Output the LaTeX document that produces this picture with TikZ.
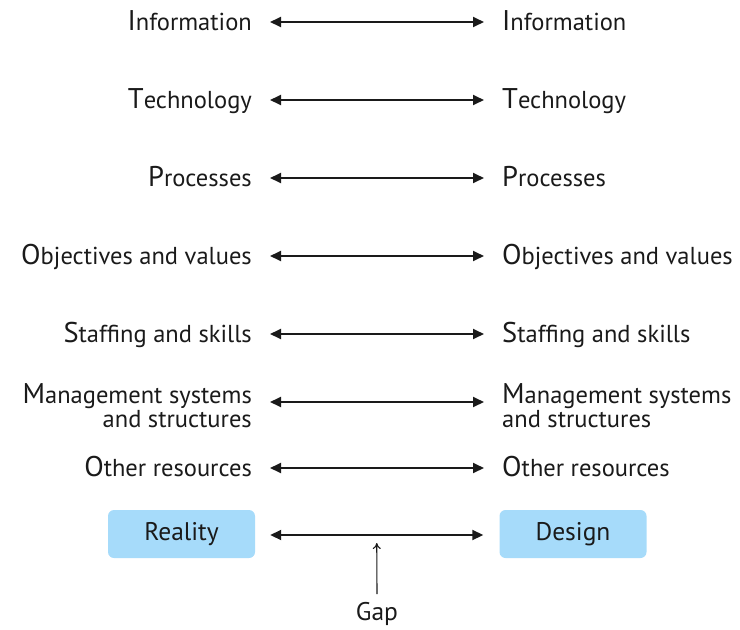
\documentclass[tikz,border=0pt]{standalone}
\usepackage{fontspec}
\setmainfont{PT Sans}
\usetikzlibrary{arrows.meta}
\definecolor{boxblue}{HTML}{A6DBFA}
\definecolor{ink}{HTML}{1A1A1A}
\newcommand{\FL}[1]{{\fontsize{28.5}{30}\selectfont #1}}
\begin{document}
\begin{tikzpicture}[x=1pt,y=-1pt,
  lbl/.style={font=\fontsize{24.5}{24}\selectfont, inner sep=0pt, text=ink},
  ll/.style={lbl, anchor=base east},
  rl/.style={lbl, anchor=base west},
  link/.style={{Triangle[length=11pt,width=10pt]}-{Triangle[length=11pt,width=10pt]}, line width=1.8pt, draw=ink},
  box/.style={fill=boxblue, rounded corners=6pt, minimum width=147pt, minimum height=48pt, font=\fontsize{25.5}{26}\selectfont, text=ink, inner sep=0pt},
  gaparrow/.style={-{To[length=6pt,width=8pt]}, line width=1.1pt, draw=ink}]
\useasboundingbox (0,0) rectangle (740,630);
% left column
\node[ll] (L1) at (252,30) {\FL{I}nformation};
\node[ll] (L2) at (252,108) {\FL{T}echnology};
\node[ll] (L3) at (252,186) {\FL{P}rocesses};
\node[ll] (L4) at (252,264) {\FL{O}bjectives and values};
\node[ll] (L5) at (252,342) {\FL{S}taffing and skills};
\node[lbl, anchor=east, align=right] (L6) at (252,406) {\FL{M}anagement systems\\and structures};
\node[ll] (L7) at (252,476) {\FL{O}ther resources};
% right column
\node[rl] (R1) at (502,30) {\FL{I}nformation};
\node[rl] (R2) at (502,108) {\FL{T}echnology};
\node[rl] (R3) at (502,186) {\FL{P}rocesses};
\node[rl] (R4) at (502,264) {\FL{O}bjectives and values};
\node[rl] (R5) at (502,342) {\FL{S}taffing and skills};
\node[lbl, anchor=west, align=left] (R6) at (502,406) {\FL{M}anagement systems\\and structures};
\node[rl] (R7) at (502,476) {\FL{O}ther resources};
% boxes
\node[box] (real) at (181.5,534) {Reality};
\node[box] (des) at (573,534) {Design};
\node[lbl, font=\fontsize{25.5}{26}\selectfont] (gap) at (377,614) {Gap};
% arrows
\foreach \i in {1,2,3,4,5,7}{
  \draw[link] ([shift={(18,-8)}]L\i.base east) -- ([shift={(-18,-8)}]R\i.base west);
}
\draw[link] ([shift={(18,-4)}]L6.east) -- ([shift={(-18,-4)}]R6.west);
\draw[link] ([shift={(15,1)}]real.east) -- coordinate[midway] (mid) ([shift={(-16,1)}]des.west);
\draw[gaparrow] (gap.north) ++(0,-8) -- ([shift={(0,8)}]mid);
\end{tikzpicture}
\end{document}
